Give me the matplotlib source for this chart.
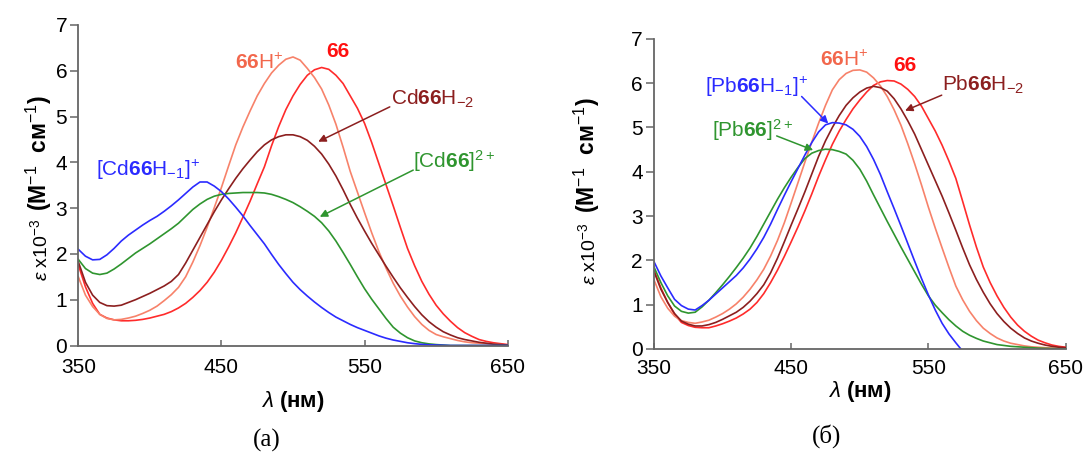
import matplotlib
matplotlib.use("Agg")
import matplotlib.pyplot as plt

plt.rcParams['font.family'] = ['Liberation Sans', 'DejaVu Sans']
plt.rcParams['mathtext.fontset'] = 'custom'
plt.rcParams['mathtext.rm'] = 'Liberation Sans'
plt.rcParams['mathtext.it'] = 'Liberation Sans:italic'
plt.rcParams['mathtext.bf'] = 'Liberation Sans:bold'

# wavelength grid, nm (5 nm step, 350..650)
wl = list(range(350, 651, 5))

# (a) Cd complexes, eps x 1e-3
cd_m1 = [2.10, 1.95, 1.87, 1.88, 1.98, 2.12, 2.28, 2.41, 2.52, 2.63,
         2.73, 2.82, 2.93, 3.05, 3.18, 3.32, 3.46, 3.57, 3.57, 3.48,
         3.36, 3.20, 3.02, 2.83, 2.62, 2.42, 2.22, 1.99, 1.77, 1.57,
         1.38, 1.22, 1.08, 0.95, 0.83, 0.72, 0.62, 0.54, 0.46, 0.39,
         0.33, 0.27, 0.21, 0.16, 0.12, 0.09, 0.06, 0.04, 0.025, 0.015,
         0.01, 0.005, 0.0, 0.0, 0.0, 0.0, 0.0, 0.0, 0.0, 0.0, 0.0]
cd_2p = [1.88, 1.68, 1.58, 1.55, 1.58, 1.67, 1.78, 1.90, 2.02, 2.12,
         2.22, 2.33, 2.44, 2.55, 2.67, 2.82, 2.97, 3.09, 3.19, 3.26,
         3.30, 3.32, 3.33, 3.34, 3.34, 3.34, 3.33, 3.30, 3.25, 3.19,
         3.12, 3.03, 2.93, 2.82, 2.68, 2.50, 2.28, 2.03, 1.77, 1.50,
         1.24, 1.01, 0.80, 0.59, 0.40, 0.27, 0.17, 0.10, 0.06, 0.035,
         0.02, 0.01, 0.0, 0.0, 0.0, 0.0, 0.0, 0.0, 0.0, 0.0, 0.0]
cd_m2 = [1.83, 1.38, 1.10, 0.94, 0.87, 0.86, 0.88, 0.94, 1.00, 1.07,
         1.14, 1.22, 1.30, 1.40, 1.55, 1.80, 2.08, 2.36, 2.64, 2.92,
         3.18, 3.42, 3.65, 3.86, 4.05, 4.23, 4.38, 4.49, 4.56, 4.60,
         4.60, 4.56, 4.48, 4.35, 4.18, 3.96, 3.70, 3.40, 3.08, 2.78,
         2.50, 2.23, 1.98, 1.73, 1.49, 1.26, 1.05, 0.85, 0.67, 0.52,
         0.40, 0.30, 0.23, 0.17, 0.13, 0.10, 0.07, 0.05, 0.03, 0.02, 0.01]
l_h = [1.50, 1.10, 0.85, 0.68, 0.59, 0.56, 0.57, 0.60, 0.64, 0.70,
       0.77, 0.86, 0.98, 1.11, 1.27, 1.50, 1.82, 2.18, 2.58, 3.01,
       3.45, 3.92, 4.38, 4.77, 5.12, 5.45, 5.72, 5.95, 6.12, 6.25,
       6.30, 6.23, 6.05, 5.85, 5.60, 5.25, 4.83, 4.33, 3.80, 3.35,
       2.90, 2.46, 2.05, 1.69, 1.36, 1.08, 0.84, 0.63, 0.46, 0.33,
       0.24, 0.19, 0.15, 0.11, 0.08, 0.06, 0.05, 0.04, 0.03, 0.02, 0.01]
l_free = [1.76, 1.28, 0.92, 0.68, 0.60, 0.56, 0.54, 0.54, 0.55, 0.57,
          0.60, 0.64, 0.68, 0.74, 0.82, 0.92, 1.05, 1.20, 1.38, 1.60,
          1.86, 2.15, 2.46, 2.80, 3.15, 3.53, 3.90, 4.36, 4.78, 5.15,
          5.45, 5.70, 5.90, 6.02, 6.07, 6.03, 5.90, 5.72, 5.45, 5.18,
          4.85, 4.43, 3.97, 3.51, 3.05, 2.58, 2.12, 1.74, 1.40, 1.12,
          0.88, 0.69, 0.53, 0.39, 0.28, 0.20, 0.13, 0.09, 0.06, 0.04, 0.02]

# (б) Pb complexes (blue trace drops below zero near 575 nm)
pb_m1 = [1.97, 1.65, 1.38, 1.12, 0.98, 0.90, 0.88, 0.98, 1.10, 1.24,
         1.38, 1.52, 1.66, 1.83, 2.03, 2.26, 2.52, 2.82, 3.15, 3.47,
         3.78, 4.08, 4.38, 4.66, 4.90, 5.06, 5.11, 5.10, 5.06, 4.96,
         4.80, 4.57, 4.28, 3.94, 3.55, 3.17, 2.78, 2.38, 1.98, 1.59,
         1.22, 0.88, 0.58, 0.34, 0.14, -0.05, -0.25]
pb_2p = [1.85, 1.50, 1.20, 0.97, 0.85, 0.81, 0.83, 0.95, 1.10, 1.27,
         1.45, 1.64, 1.84, 2.05, 2.28, 2.54, 2.82, 3.10, 3.38, 3.64,
         3.88, 4.10, 4.30, 4.42, 4.48, 4.51, 4.50, 4.46, 4.40, 4.26,
         4.06, 3.79, 3.48, 3.18, 2.88, 2.59, 2.30, 2.02, 1.74, 1.46,
         1.20, 0.99, 0.82, 0.66, 0.52, 0.40, 0.31, 0.24, 0.18, 0.14,
         0.10, 0.08, 0.06, 0.05, 0.04, 0.03, 0.02, 0.015, 0.01, 0.005, 0.0]
pb_m2 = [1.75, 1.35, 1.05, 0.80, 0.63, 0.56, 0.52, 0.52, 0.55, 0.60,
         0.67, 0.75, 0.83, 0.94, 1.08, 1.25, 1.45, 1.72, 2.05, 2.42,
         2.80, 3.17, 3.55, 3.95, 4.35, 4.70, 5.00, 5.27, 5.50, 5.67,
         5.80, 5.89, 5.93, 5.90, 5.82, 5.65, 5.42, 5.15, 4.85, 4.50,
         4.15, 3.80, 3.45, 3.07, 2.68, 2.28, 1.90, 1.57, 1.28, 1.02,
         0.80, 0.62, 0.47, 0.35, 0.25, 0.18, 0.13, 0.09, 0.06, 0.04, 0.03]
r_h = [1.56, 1.18, 0.92, 0.74, 0.64, 0.60, 0.58, 0.61, 0.65, 0.72,
       0.80, 0.90, 1.02, 1.17, 1.35, 1.56, 1.80, 2.10, 2.45, 2.85,
       3.30, 3.76, 4.22, 4.67, 5.10, 5.50, 5.85, 6.08, 6.22, 6.29,
       6.30, 6.25, 6.12, 5.94, 5.70, 5.40, 5.05, 4.63, 4.18, 3.70,
       3.20, 2.73, 2.28, 1.84, 1.42, 1.11, 0.85, 0.64, 0.47, 0.35,
       0.25, 0.18, 0.13, 0.10, 0.07, 0.05, 0.04, 0.03, 0.02, 0.015, 0.01]
r_free = [1.78, 1.38, 1.05, 0.78, 0.60, 0.53, 0.49, 0.48, 0.48, 0.52,
          0.57, 0.63, 0.70, 0.79, 0.90, 1.05, 1.25, 1.50, 1.78, 2.09,
          2.42, 2.76, 3.12, 3.50, 3.90, 4.27, 4.62, 4.92, 5.18, 5.42,
          5.62, 5.80, 5.95, 6.03, 6.06, 6.05, 5.98, 5.86, 5.70, 5.48,
          5.20, 4.92, 4.60, 4.24, 3.85, 3.33, 2.80, 2.30, 1.85, 1.50,
          1.20, 0.94, 0.72, 0.54, 0.40, 0.29, 0.20, 0.14, 0.09, 0.06, 0.04]

xticks = [350, 450, 550, 650]
yticks = [0, 1, 2, 3, 4, 5, 6, 7]

c_blue = '#2b2bff'
c_green = '#2f952f'
c_dark = '#8c1f1f'
c_salmon = '#f7826a'
c_red = '#ff2b2b'

W, H = 1087, 453
fig = plt.figure(figsize=(W / 100, H / 100), dpi=100)


def rect(l, r, t, b):
    return [l / W, 1 - b / H, (r - l) / W, (b - t) / H]


axL = fig.add_axes(rect(78.3, 507.7, 24.9, 345.5))
axR = fig.add_axes(rect(654, 1065.6, 38.9, 349))

for ax in (axL, axR):
    ax.set_xlim(350, 650)
    ax.set_ylim(0, 7)
    ax.set_xticks(xticks)
    ax.set_yticks(yticks)
    for s in ('top', 'right'):
        ax.spines[s].set_visible(False)
    for s in ('left', 'bottom'):
        ax.spines[s].set_color('#666666')
        ax.spines[s].set_linewidth(1.3)
    ax.tick_params(axis='y', direction='out', length=5.5, width=1.1,
                   color='#666666', labelsize=15, pad=2.5)
    ax.tick_params(axis='x', direction='in', length=4, width=1.1,
                   color='#666666', labelsize=15)
    ax.patch.set_alpha(0)

axL.tick_params(axis='x', pad=9)
axR.tick_params(axis='x', pad=7.5)

lw = 1.2
axL.plot(wl, l_free, color=c_red, lw=lw)
axL.plot(wl, l_h, color=c_salmon, lw=lw)
axL.plot(wl, cd_m2, color=c_dark, lw=lw)
axL.plot(wl, cd_2p, color=c_green, lw=lw)
axL.plot(wl, cd_m1, color=c_blue, lw=lw)

axR.plot(wl, r_free, color=c_red, lw=lw)
axR.plot(wl, r_h, color=c_salmon, lw=lw)
axR.plot(wl, pb_m2, color=c_dark, lw=lw)
axR.plot(wl, pb_2p, color=c_green, lw=lw)
axR.plot(wl[:len(pb_m1)], pb_m1, color=c_blue, lw=lw)

fs = 15
arrow = dict(arrowstyle='-|>', lw=1.1, mutation_scale=11, shrinkA=0, shrinkB=0)

# labels, panel (a)
axL.text(459.5, 6.03, r'$\mathbf{66}$H$^{+}$', color='#f2674c', fontsize=fs)
axL.text(523.5, 6.29, '66', color='#ff1010', fontsize=fs, fontweight='bold')
axL.text(568.8, 5.25, r'Cd$\mathbf{66}$H$_{-2}$', color=c_dark, fontsize=fs)
axL.text(584, 3.87, r'[Cd$\mathbf{66}$]$^{2+}$', color=c_green, fontsize=fs)
axL.text(362.4, 3.69, r'[Cd$\mathbf{66}$H$_{-1}$]$^{+}$', color=c_blue, fontsize=fs)
axL.annotate('', xy=(517.6, 4.45), xytext=(567.6, 5.21),
             arrowprops=dict(arrow, color=c_dark))
axL.annotate('', xy=(518.7, 2.81), xytext=(584, 3.83),
             arrowprops=dict(arrow, color=c_green))

# labels, panel (б)
axR.text(471, 6.39, r'$\mathbf{66}$H$^{+}$', color='#f2674c', fontsize=fs)
axR.text(524.4, 6.28, '66', color='#ff1010', fontsize=fs, fontweight='bold')
axR.text(559.7, 5.83, r'Pb$\mathbf{66}$H$_{-2}$', color=c_dark, fontsize=fs)
axR.text(387.2, 5.77, r'[Pb$\mathbf{66}$H$_{-1}$]$^{+}$', color=c_blue, fontsize=fs)
axR.text(392, 4.79, r'[Pb$\mathbf{66}$]$^{2+}$', color=c_green, fontsize=fs)
axR.annotate('', xy=(533, 5.38), xytext=(559.7, 5.73),
             arrowprops=dict(arrow, color=c_dark))
axR.annotate('', xy=(477, 5.09), xytext=(457.6, 5.70),
             arrowprops=dict(arrow, color=c_blue))
axR.annotate('', xy=(466, 4.49), xytext=(439.4, 4.81),
             arrowprops=dict(arrow, color=c_green))

# axis titles
for xb, yc1, yc2 in ((47, 153, 250), (595, 155, 254)):
    fig.text(xb / W, 1 - yc1 / H, r'(M$^{-1}$  см$^{-1}$)', rotation=90,
             rotation_mode='anchor', ha='center', va='baseline',
             fontsize=16.5, fontweight='bold')
    fig.text(xb / W, 1 - yc2 / H, r'$\varepsilon$ x10$^{-3}$', rotation=90,
             rotation_mode='anchor', ha='center', va='baseline', fontsize=14)

fig.text(293 / W, 1 - 402 / H, r'$\lambda$ (нм)', ha='center', va='center',
         fontsize=16, fontweight='bold')
fig.text(860 / W, 1 - 391 / H, r'$\lambda$ (нм)', ha='center', va='center',
         fontsize=16, fontweight='bold')

fig.text(267 / W, 1 - 440 / H, '(а)', ha='center', va='center',
         fontsize=18, family='Liberation Serif')
fig.text(827 / W, 1 - 436 / H, '(б)', ha='center', va='center',
         fontsize=18, family='Liberation Serif')

fig.savefig('out.png', dpi=100)
